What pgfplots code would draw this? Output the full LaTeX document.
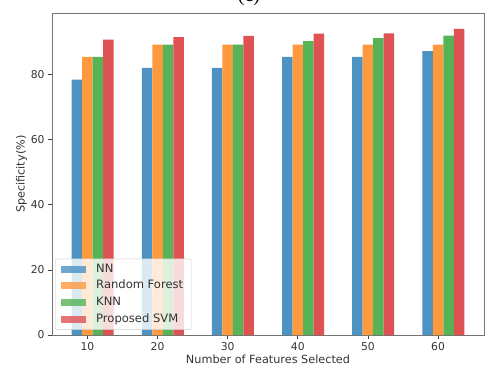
\documentclass[border=0pt]{standalone}
\usepackage{pgfplots}
\pgfplotsset{compat=1.18}
\usepackage{fontspec}
\setmainfont{DejaVu Sans}
\newfontfamily\captionserif{Liberation Serif}

\definecolor{cNN}{HTML}{4C92C3}
\definecolor{cRF}{HTML}{FF993E}
\definecolor{cKNN}{HTML}{56B356}
\definecolor{cSVM}{HTML}{DE5253}

\begin{document}
\begin{tikzpicture}
\useasboundingbox (-52bp,-37bp) rectangle (435bp,335bp);
\node[anchor=base] at (197bp,333bp) {\captionserif\fontsize{20}{24}\selectfont (c)};
\begin{axis}[
  at={(0,0)}, anchor=south west,
  scale only axis, width=432bp, height=321.5bp,
  xmin=4.95, xmax=66.55, ymin=0, ymax=98.8,
  xtick={10,20,30,40,50,60},
  ytick={0,20,40,60,80},
  tick align=outside, tick pos=left,
  major tick length=4bp,
  every tick/.style={black!75, line width=0.8bp},
  axis line style={black!55, line width=1bp},
  /pgf/number format/assume math mode=true,
  tick label style={font=\fontsize{10.8}{12}\selectfont, text=black!80},
  xlabel={Number of Features Selected},
  ylabel={Specificity(\%)},
  label style={font=\fontsize{11.3}{13}\selectfont, text=black!80},
  xlabel style={yshift=3bp},
  ylabel style={yshift=-3bp},
  bar width=1.5, bar shift=0pt,
  every axis plot/.append style={ybar, draw=none},
  legend image code/.code={%
    \fill[#1, draw=none, sharp corners] (0bp,-3.5bp) rectangle (25bp,3.5bp);
    \path (33bp,0bp);},
  legend cell align=left,
  legend style={anchor=south west, at={(0.007,0.016)},
    font=\fontsize{11.6}{13}\selectfont, text=black!80,
    draw=black!20, rounded corners=2bp, fill=white, fill opacity=0.8, text opacity=1,
    inner xsep=6bp, inner ysep=3bp, row sep=1.6bp,
    nodes={inner sep=2bp, text height=8.5bp, text depth=2.5bp}},
]
\addplot[fill=cNN] coordinates {(8.5,78.5) (18.5,82.1) (28.5,82.1) (38.5,85.5) (48.5,85.5) (58.5,87.2)};
\addplot[fill=cRF] coordinates {(10,85.5) (20,89.2) (30,89.2) (40,89.2) (50,89.2) (60,89.2)};
\addplot[fill=cKNN] coordinates {(11.5,85.5) (21.5,89.2) (31.5,89.2) (41.5,90.3) (51.5,91.2) (61.5,92.0)};
\addplot[fill=cSVM] coordinates {(13,90.8) (23,91.5) (33,91.9) (43,92.6) (53,92.7) (63,94.1)};
\legend{NN, Random Forest, KNN, Proposed SVM}
\end{axis}
\end{tikzpicture}
\end{document}
